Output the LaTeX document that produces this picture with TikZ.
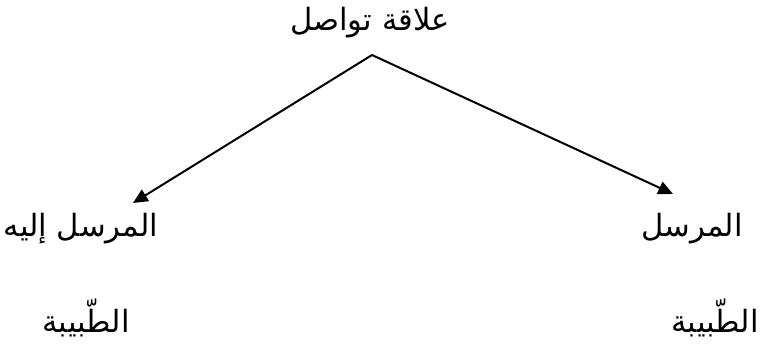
\documentclass[tikz,border=0pt]{standalone}
\usepackage{fontspec}
\usepackage{tikz}
\usetikzlibrary{arrows.meta}
\newfontfamily\arabicfont[Script=Arabic]{DejaVu Sans}
\TeXXeTstate=1

\begin{document}
\begin{tikzpicture}[x=0.75pt,y=-0.75pt,
  label/.style={font=\arabicfont\fontsize{23}{27}\selectfont, inner sep=0pt},
  link/.style={line width=1.5pt, -{Triangle[length=11pt,width=10pt]}}]
  \useasboundingbox (0,0) rectangle (761,343);
  \node[label] (rel) at (370,23) {\beginR علاقة تواصل\endR};
  \coordinate (top) at (372,55);
  \coordinate (lefttip) at (133,203);
  \coordinate (righttip) at (673,194);
  \draw[link] (top) -- (lefttip);
  \draw[link] (top) -- (righttip);
  \node[label] (recv) at (81,229) {\beginR المرسل إليه\endR};
  \node[label] (send) at (692,229) {\beginR المرسل\endR};
  \node[label] (docl) at (86,318) {\beginR الطّبيبة\endR};
  \node[label] (docr) at (715,318) {\beginR الطّبيبة\endR};
\end{tikzpicture}
\end{document}
